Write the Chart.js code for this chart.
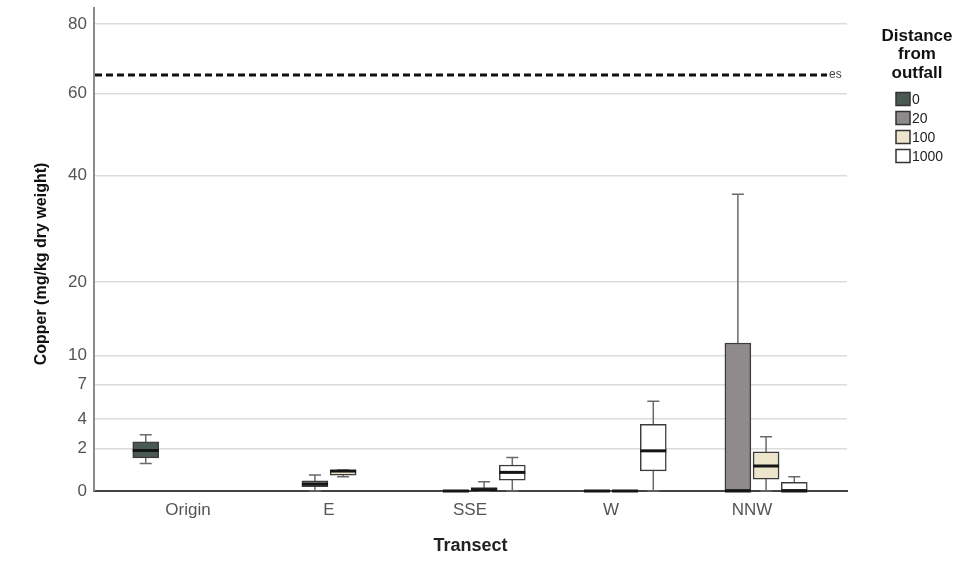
<!DOCTYPE html>
<html>
<head>
<meta charset="utf-8">
<script src="https://cdn.jsdelivr.net/npm/chart.js@4.4.1/dist/chart.umd.min.js"></script>
<style>
  html, body { margin: 0; padding: 0; background: #fff; }
</style>
</head>
<body>
<canvas id="copperChart" width="979" height="563"></canvas>
<script>
// Copper per transect, one box per distance: [min, q1, median, q3, max]
const transects = ['Origin', 'E', 'SSE', 'W', 'NNW'];
const distances = ['0', '20', '100', '1000'];
const dist0    = [[1.17, 1.46, 1.87, 2.39, 2.85], null, null, null, null];
const dist20   = [null, [0, 0.15, 0.25, 0.38, 0.62], [0, 0, 0, 0, 0], [0, 0, 0, 0, 0], [0, 0, 0, 11.5, 36]];
const dist100  = [null, [0.55, 0.62, 0.8, 0.85, 0.85], [0, 0, 0.05, 0.12, 0.34], [0, 0, 0, 0, 0], [0, 0.45, 1.04, 1.79, 2.72]];
const dist1000 = [null, null, [0, 0.41, 0.74, 1.09, 1.48], [0, 0.81, 1.85, 3.58, 5.44], [0, 0, 0, 0.32, 0.55]];
const yTickValues = [0, 2, 4, 7, 10, 20, 40, 60, 80];
const yMax = 85;
const esLevel = 65;

const FONT = "'Liberation Sans', Arial, sans-serif";
const fills = ['#4b5953', '#8f8b8c', '#ece5cc', '#ffffff'];

// square-root style axis: sqrt(v + 1) - 1
const sq = v => Math.sqrt(v + 1) - 1;
const unsq = t => Math.pow(t + 1, 2) - 1;

const seriesStats = [dist0, dist20, dist100, dist1000];

const datasets = distances.map((d, si) => ({
    label: d,
    data: seriesStats[si]
        .map((s, ci) => s ? { x: ci + (si - 1.5) * 0.2, y: [sq(s[1]), sq(s[3])], stats: s } : null)
        .filter(Boolean),
    backgroundColor: fills[si],
    borderColor: '#3c3c3c',
    borderWidth: 1.5,
    borderSkipped: false,
    barThickness: 26,
    grouped: false
}));

// whiskers behind the boxes, medians on top
const boxParts = {
    id: 'boxParts',
    beforeDatasetsDraw(chart) {
        const { ctx, scales: { x, y } } = chart;
        ctx.save();
        ctx.strokeStyle = '#6a6a6a';
        ctx.lineWidth = 1.5;
        chart.data.datasets.forEach(ds => {
            ds.data.forEach(pt => {
                const s = pt.stats;
                const px = x.getPixelForValue(pt.x);
                const yLo = y.getPixelForValue(sq(s[0]));
                const yHi = y.getPixelForValue(sq(s[4]));
                ctx.beginPath();
                ctx.moveTo(px, yLo);
                ctx.lineTo(px, yHi);
                ctx.moveTo(px - 6, yLo);
                ctx.lineTo(px + 6, yLo);
                ctx.moveTo(px - 6, yHi);
                ctx.lineTo(px + 6, yHi);
                ctx.stroke();
            });
        });
        ctx.restore();
    },
    afterDatasetsDraw(chart) {
        const { ctx, scales: { x, y } } = chart;
        ctx.save();
        ctx.strokeStyle = '#151515';
        ctx.lineWidth = 3;
        chart.data.datasets.forEach(ds => {
            ds.data.forEach(pt => {
                const px = x.getPixelForValue(pt.x);
                const py = y.getPixelForValue(sq(pt.stats[2]));
                ctx.beginPath();
                ctx.moveTo(px - 13, py);
                ctx.lineTo(px + 13, py);
                ctx.stroke();
            });
        });
        ctx.restore();
    },
    afterDraw(chart) {
        const { ctx, chartArea, scales: { y } } = chart;
        ctx.save();

        // reference level
        const ey = y.getPixelForValue(sq(esLevel));
        ctx.strokeStyle = '#111';
        ctx.lineWidth = 3;
        ctx.setLineDash([7, 4]);
        ctx.beginPath();
        ctx.moveTo(chartArea.left + 1, ey);
        ctx.lineTo(chartArea.right - 20, ey);
        ctx.stroke();
        ctx.setLineDash([]);
        ctx.fillStyle = '#444';
        ctx.font = '12px ' + FONT;
        ctx.textAlign = 'left';
        ctx.textBaseline = 'middle';
        ctx.fillText('es', chartArea.right - 18, ey);

        // y axis title
        ctx.save();
        ctx.translate(42, 264);
        ctx.rotate(-Math.PI / 2);
        ctx.fillStyle = '#111';
        ctx.font = 'bold 16px ' + FONT;
        ctx.textAlign = 'center';
        ctx.textBaseline = 'middle';
        ctx.fillText('Copper (mg/kg dry weight)', 0, 0);
        ctx.restore();

        // legend
        ctx.fillStyle = '#111';
        ctx.font = 'bold 17px ' + FONT;
        ctx.textAlign = 'center';
        ctx.textBaseline = 'middle';
        ['Distance', 'from', 'outfall'].forEach((t, i) => ctx.fillText(t, 917, 36 + i * 18.5));

        ctx.font = '14px ' + FONT;
        ctx.textAlign = 'left';
        chart.data.datasets.forEach((ds, i) => {
            const cy = 99 + i * 19;
            ctx.fillStyle = ds.backgroundColor;
            ctx.fillRect(896, cy - 6.5, 14, 13);
            ctx.strokeStyle = '#333';
            ctx.lineWidth = 1.5;
            ctx.strokeRect(896, cy - 6.5, 14, 13);
            ctx.fillStyle = '#222';
            ctx.fillText(ds.label, 912, cy + 1);
        });
        ctx.restore();
    }
};

const ctx = document.getElementById('copperChart').getContext('2d');
new Chart(ctx, {
    type: 'bar',
    data: { datasets },
    options: {
        responsive: false,
        animation: false,
        layout: { padding: { left: 0, right: 132, top: 8, bottom: 0 } },
        plugins: {
            legend: { display: false },
            tooltip: { enabled: false }
        },
        scales: {
            x: {
                type: 'linear',
                min: -0.667,
                max: 4.674,
                offset: false,
                afterFit: scale => {
                    scale.height = 72;
                    scale.paddingLeft = 0;
                    scale.paddingRight = 0;
                },
                afterBuildTicks: scale => {
                    scale.ticks = transects.map((_, i) => ({ value: i }));
                },
                grid: { display: false, drawTicks: false },
                border: { display: true, color: '#444', width: 2 },
                ticks: {
                    autoSkip: false,
                    maxRotation: 0,
                    padding: 9,
                    color: '#555',
                    font: { family: FONT, size: 17 },
                    callback: value => transects[value]
                },
                title: {
                    display: true,
                    text: 'Transect',
                    color: '#222',
                    font: { family: FONT, size: 18, weight: 'bold' },
                    padding: { top: 0, bottom: 6 }
                }
            },
            y: {
                type: 'linear',
                min: 0,
                max: sq(yMax),
                afterFit: scale => {
                    scale.width = 94;
                    scale.paddingTop = 0;
                    scale.paddingBottom = 0;
                },
                afterBuildTicks: scale => {
                    scale.ticks = yTickValues.map(v => ({ value: sq(v) }));
                },
                grid: { color: '#dcdcdc', lineWidth: 1.5, drawTicks: false },
                border: { display: true, color: '#8a8a8a', width: 2 },
                ticks: {
                    autoSkip: false,
                    padding: 7,
                    color: '#555',
                    font: { family: FONT, size: 17 },
                    callback: value => Math.round(unsq(value))
                }
            }
        }
    },
    plugins: [boxParts]
});
</script>
</body>
</html>
